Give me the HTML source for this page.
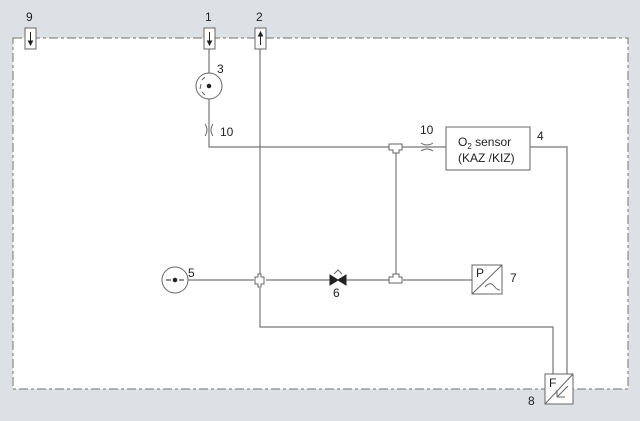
<!DOCTYPE html>
<html><head><style>
html,body{margin:0;padding:0;background:#dde1e5;}
svg{display:block;}
text{font-family:"Liberation Sans",sans-serif;font-size:12px;fill:#222;}
</style></head><body>
<svg width="640" height="421" viewBox="0 0 640 421" xmlns="http://www.w3.org/2000/svg">
<rect x="0" y="0" width="640" height="421" fill="#dde1e5"/>
<rect x="13" y="38" width="615" height="351" fill="#fff" stroke="#8a8a8a" stroke-width="1.2" stroke-dasharray="9,3,3,3"/>
<g stroke="#777" stroke-width="1.2" fill="none">
<path d="M209 49 V73 M209 99 V147 H392"/>
<path d="M399 147 H446"/>
<path d="M260 49 V276 M260 288 V327 H553 V374"/>
<path d="M396 150 V276"/>
<path d="M530 147 H567 V374"/>
<path d="M188 280 H254 M266 280 H330 M346 280 H389 M403 280 H472"/>
</g>
<g stroke="#666" stroke-width="1" fill="#fff">
<rect x="25" y="28" width="11" height="21"/>
<rect x="204" y="28" width="11" height="21"/>
<rect x="255" y="28" width="11" height="21"/>
<circle cx="209" cy="86" r="13"/>
<circle cx="175" cy="280" r="13"/>
<rect x="446" y="127" width="84" height="43"/>
<rect x="472" y="265" width="30" height="29"/>
<rect x="545" y="374" width="28" height="30"/>
<path d="M389 144 H402 V150 H399 V153 H393 V150 H389 Z"/>
<path d="M389 283 H402 V277 H399 V274 H393 V277 H389 Z"/>
<path d="M256 276 H259 V273 H262 V276 H265 V283 H262 V286 H259 V283 H256 Z" transform="translate(-1,1)"/>
</g>
<g stroke="#222" stroke-width="1" fill="#222">
<path d="M30.5 32 V45 M28.5 41 L30.5 45 L32.5 41Z"/>
<path d="M209.5 32 V45 M207.5 41 L209.5 45 L211.5 41Z"/>
<path d="M260.5 45 V32 M258.5 36 L260.5 32 L262.5 36Z"/>
<circle cx="209" cy="86" r="1.8"/>
<circle cx="175" cy="280" r="1.8"/>
<path d="M166 280 H171 M184 280 H179" fill="none"/>
<path d="M330 275 L338 280 L330 285Z M346 275 L338 280 L346 285Z"/>
</g>
<g stroke="#666" stroke-width="1" fill="none">
<path d="M205 124 Q209 130 205 136 M213 124 Q209 130 213 136"/>
<path d="M421 143 Q427 147 433 143 M421 151 Q427 147 433 151"/>
<path d="M334 274 L338 270 L342 274"/>
<path d="M472 294 L502 265"/>
<path d="M545 404 L573 374"/>
<path d="M568 386 L557 397 M557 397 V390 M557 397 H565"/>
<path d="M485 287 Q490 281 494 286 Q497 290 500 290"/>
<path d="M201 84 L200 89 M205 77 L202 80 M205 95 L202 92"/>
</g>
<text x="26" y="21">9</text>
<text x="205" y="21">1</text>
<text x="256" y="21">2</text>
<text x="217" y="73">3</text>
<text x="220" y="136">10</text>
<text x="420" y="134">10</text>
<text x="458" y="146">O<tspan font-size="8" dy="3">2</tspan><tspan dy="-3"> sensor</tspan></text>
<text x="458" y="162">(KAZ /KIZ)</text>
<text x="537" y="140">4</text>
<text x="188" y="277">5</text>
<text x="333" y="297">6</text>
<text x="510" y="282">7</text>
<text x="528" y="405">8</text>
<text x="476" y="277" font-size="10">P</text>
<text x="549" y="387" font-size="11">F</text>
</svg>
</body></html>
